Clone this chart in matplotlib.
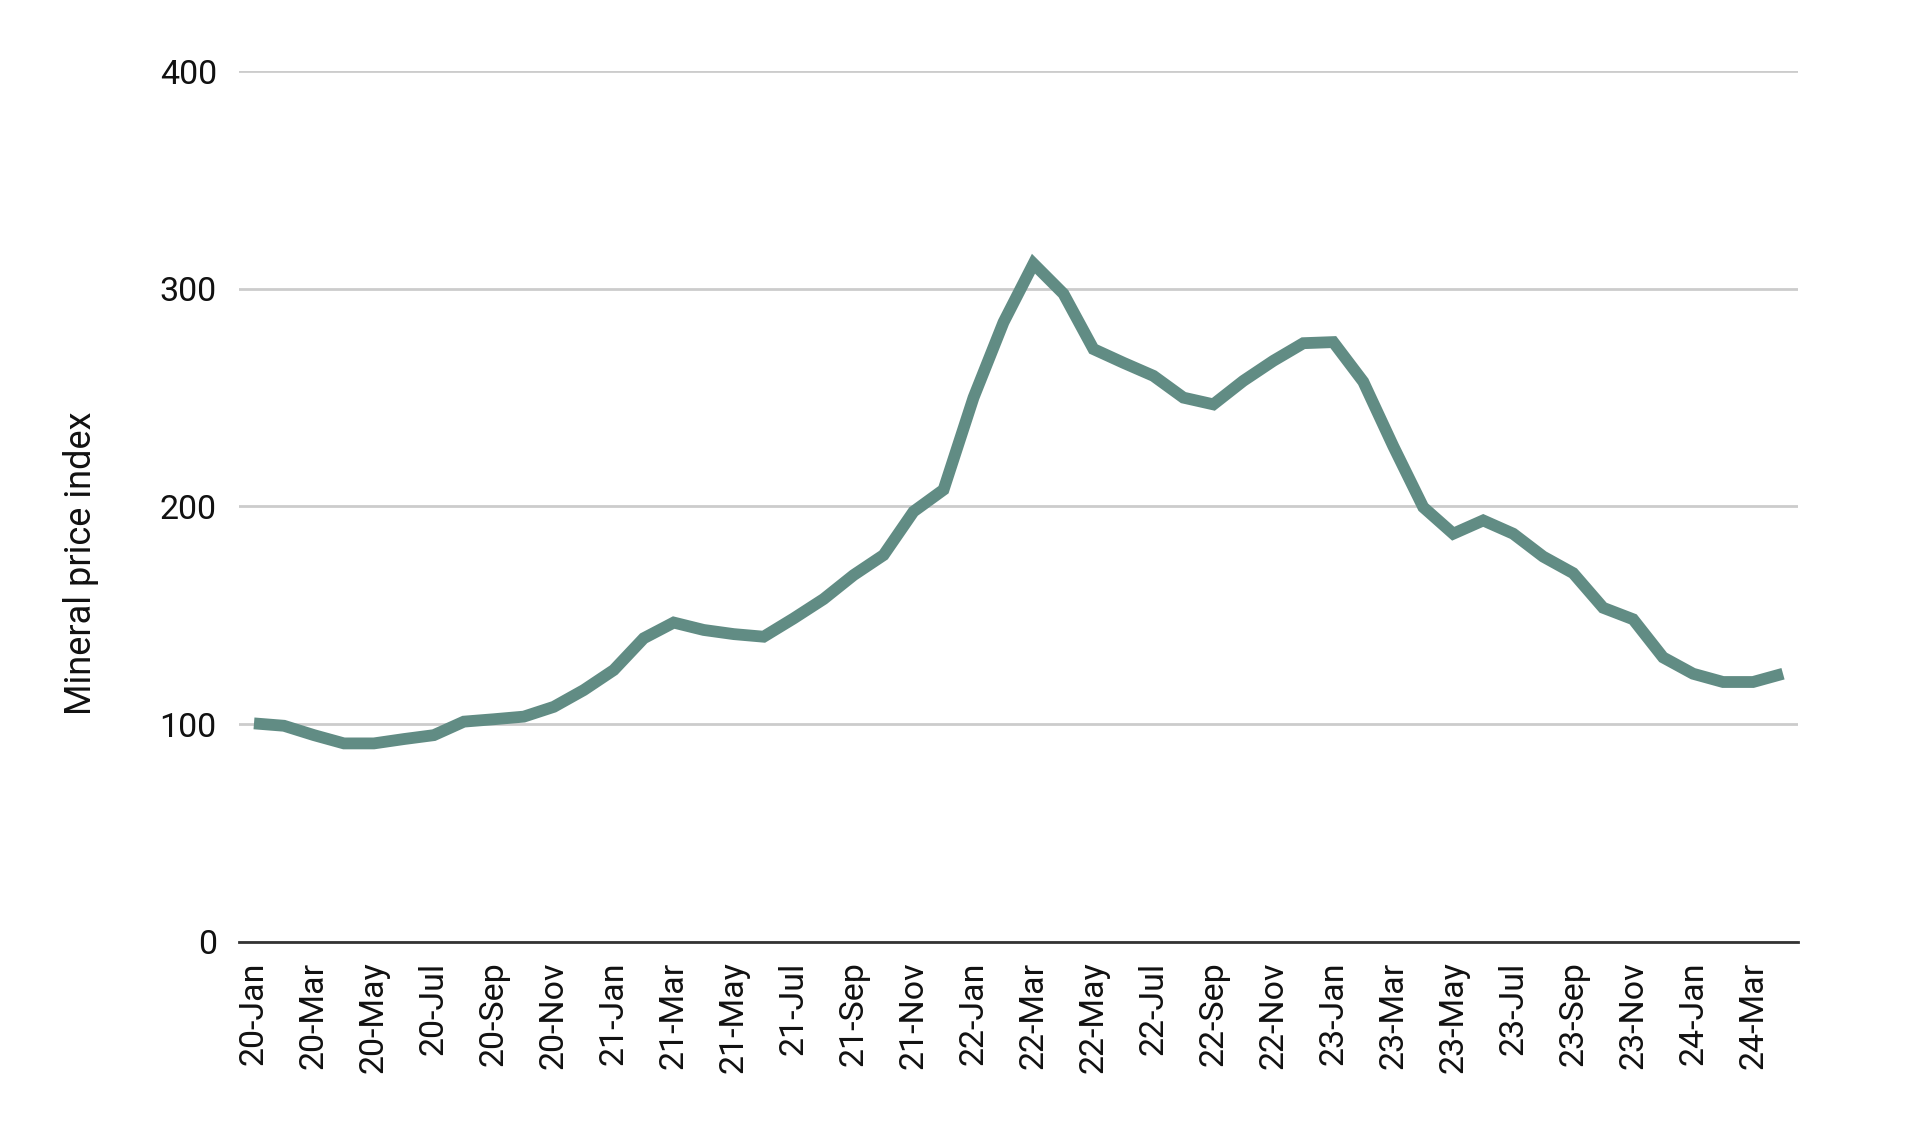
import matplotlib
matplotlib.use("Agg")
import matplotlib.pyplot as plt

plt.rcParams['font.family'] = ['Roboto', 'DejaVu Sans']

months = []
mnames = ['Jan', 'Feb', 'Mar', 'Apr', 'May', 'Jun', 'Jul', 'Aug', 'Sep', 'Oct', 'Nov', 'Dec']
for yr in range(20, 25):
    for m in mnames:
        months.append(f"{yr}-{m}")
months = months[:52]  # 20-Jan .. 24-Apr

index_values = [
    100.4, 99.3, 95.0, 91.2, 91.2, 93.2, 95.0, 101.2, 102.3, 103.5,
    108.0, 115.7, 124.9, 139.5, 146.7, 143.3, 141.4, 140.2, 148.6, 157.5,
    168.5, 177.7, 197.7, 207.7, 250.0, 284.6, 311.5, 297.7, 272.3, 266.0,
    260.0, 250.0, 246.9, 257.7, 266.9, 275.0, 275.5, 257.3, 227.7, 199.7,
    187.5, 193.6, 187.5, 177.0, 169.4, 153.5, 148.2, 130.7, 123.2, 119.4,
    119.4, 123.2,
]

y_ticks = [0, 100, 200, 300, 400]

fig = plt.figure(figsize=(19.2, 11.25), dpi=100)
ax = fig.add_axes([239/1920, 1-942/1125, (1798-239)/1920, (942-71)/1125])

x = list(range(len(months)))
ax.plot(x, index_values, color='#618c84', linewidth=8.5, solid_joinstyle='miter',
        solid_capstyle='butt', zorder=3)

ax.set_xlim(-0.5, len(months) - 0.5)
ax.set_ylim(0, 400)
ax.set_yticks(y_ticks)
ax.set_yticklabels([str(v) for v in y_ticks], fontsize=24.5, color='#111111')
ax.set_xticks(x[::2])
ax.set_xticklabels(months[::2], rotation=90, fontsize=24.5, color='#111111')
ax.tick_params(axis='y', length=0, pad=16)
ax.tick_params(axis='x', length=0, pad=14)

ax.grid(axis='y', color='#cccccc', linewidth=2, zorder=1)
ax.grid(axis='x', visible=False)
for s in ['top', 'right', 'left']:
    ax.spines[s].set_visible(False)
ax.spines['bottom'].set_color('#333333')
ax.spines['bottom'].set_linewidth(2)
ax.spines['bottom'].set_zorder(4)

fig.text(81/1920, 1-563/1125, 'Mineral price index', rotation=90, fontsize=26,
         ha='center', va='center', color='#111111')

fig.savefig('out.png', dpi=100, facecolor='white')
